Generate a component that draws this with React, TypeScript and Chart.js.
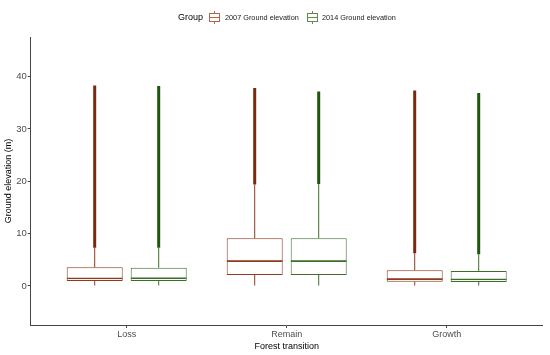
import React, { useEffect, useRef } from 'react';
import { Chart, registerables } from 'chart.js';

Chart.register(...registerables);

const CATEGORIES = ['Loss', 'Remain', 'Growth'];
const SERIES = ['2007 Ground elevation', '2014 Ground elevation'];
const Y_TICKS = [0, 10, 20, 30, 40];

// 2007 Ground elevation
const MIN_2007 = [0, 0, 0];
const Q1_2007 = [0.96, 2.1, 0.82];
const MEDIAN_2007 = [1.28, 4.59, 1.15];
const Q3_2007 = [3.58, 9.12, 3.0];
const WHISKER_2007 = [7.3, 19.4, 6.25];
const MAX_2007 = [38.3, 37.8, 37.35];

// 2014 Ground elevation
const MIN_2014 = [0, 0, 0];
const Q1_2014 = [0.96, 2.1, 0.76];
const MEDIAN_2014 = [1.32, 4.6, 1.1];
const Q3_2014 = [3.5, 9.1, 2.87];
const WHISKER_2014 = [7.3, 19.5, 6.06];
const MAX_2014 = [38.2, 37.15, 36.85];

const COLOR_2007 = '#8c3b1f';
const DARK_2007 = '#7a2810';
const COLOR_2014 = '#3d6e28';
const DARK_2014 = '#1d570c';

const FONT = "'Liberation Sans', Arial, sans-serif";

function pairs(lo: number[], hi: number[]) {
  return lo.map((v, i) => ({ x: i, y: [v, hi[i]] }));
}

function makeGroup(
  label: string,
  stack: string,
  color: string,
  dark: string,
  mn: number[],
  q1: number[],
  med: number[],
  q3: number[],
  wh: number[],
  mx: number[]
) {
  const common = {
    type: 'bar' as const,
    stack,
    label,
    categoryPercentage: 0.8,
    barPercentage: 0.875,
    borderSkipped: false,
  };
  return [
    {
      ...common,
      data: pairs(q1, q3),
      backgroundColor: '#ffffff',
      borderColor: color,
      borderWidth: 1,
      order: 2,
    },
    {
      ...common,
      data: pairs(med, q3),
      backgroundColor: 'rgba(0,0,0,0)',
      borderColor: color,
      borderWidth: { top: 0, left: 0, right: 0, bottom: 1.6 },
      order: 1,
    },
    {
      ...common,
      data: pairs(mn, q1),
      backgroundColor: color,
      borderWidth: 0,
      maxBarThickness: 1,
      order: 3,
    },
    {
      ...common,
      data: pairs(q3, wh),
      backgroundColor: color,
      borderWidth: 0,
      maxBarThickness: 1,
      order: 3,
    },
    {
      ...common,
      data: pairs(wh, mx),
      backgroundColor: dark,
      borderWidth: 0,
      maxBarThickness: 3,
      order: 3,
    },
  ];
}

const legendPlugin = {
  id: 'ggLegend',
  afterDraw(chart: any) {
    const ctx = chart.ctx as CanvasRenderingContext2D;
    ctx.save();
    ctx.textBaseline = 'middle';
    ctx.fillStyle = '#000000';
    ctx.font = `9px ${FONT}`;
    ctx.fillText('Group', 178, 17.5);
    const keys = [
      { x: 209, tx: 225, color: '#b0644a', text: SERIES[0] },
      { x: 307, tx: 322, color: '#5f8a4c', text: SERIES[1] },
    ];
    for (const k of keys) {
      ctx.strokeStyle = k.color;
      ctx.lineWidth = 1;
      ctx.fillStyle = '#ffffff';
      ctx.fillRect(k.x + 0.5, 13.5, 10, 8);
      ctx.strokeRect(k.x + 0.5, 13.5, 10, 8);
      ctx.beginPath();
      ctx.moveTo(k.x + 0.5, 17.5);
      ctx.lineTo(k.x + 10.5, 17.5);
      ctx.moveTo(k.x + 5.5, 11);
      ctx.lineTo(k.x + 5.5, 13.5);
      ctx.moveTo(k.x + 5.5, 21.5);
      ctx.lineTo(k.x + 5.5, 24);
      ctx.stroke();
      ctx.fillStyle = '#1a1a1a';
      ctx.font = `7.3px ${FONT}`;
      ctx.fillText(k.text, k.tx, 17.5);
    }
    ctx.restore();
  },
};

export default function App() {
  const ref = useRef<HTMLCanvasElement | null>(null);

  useEffect(() => {
    document.body.style.margin = '0';
    const canvas = ref.current;
    if (!canvas) return;
    const datasets: any[] = [
      ...makeGroup(SERIES[0], 's2007', COLOR_2007, DARK_2007, MIN_2007, Q1_2007, MEDIAN_2007, Q3_2007, WHISKER_2007, MAX_2007),
      ...makeGroup(SERIES[1], 's2014', COLOR_2014, DARK_2014, MIN_2014, Q1_2014, MEDIAN_2014, Q3_2014, WHISKER_2014, MAX_2014),
    ];
    const chart = new Chart(canvas, {
      type: 'bar',
      data: { datasets },
      options: {
        responsive: false,
        animation: false,
        devicePixelRatio: 1,
        layout: { padding: { top: 37, right: 7.3, left: 0, bottom: 0 } },
        plugins: {
          legend: { display: false },
          tooltip: { enabled: false },
        },
        scales: {
          x: {
            type: 'linear',
            min: -0.6,
            max: 2.6,
            offset: false,
            afterBuildTicks: (s: any) => {
              s.ticks = CATEGORIES.map((_, i) => ({ value: i }));
            },
            afterFit: (s: any) => {
              s.height = 30;
            },
            ticks: {
              autoSkip: false,
              maxRotation: 0,
              padding: 1,
              color: '#4d4d4d',
              font: { family: FONT, size: 9 },
              callback: (v: any) => CATEGORIES[v as number] ?? '',
            },
            grid: {
              display: true,
              offset: false,
              drawOnChartArea: false,
              drawTicks: true,
              tickLength: 3,
              color: '#444444',
            },
            border: { display: true, color: '#444444', width: 1 },
            title: {
              display: true,
              text: 'Forest transition',
              color: '#000000',
              font: { family: FONT, size: 9 },
              padding: { top: 0, bottom: 3 },
            },
          },
          y: {
            type: 'linear',
            min: -7.45,
            max: 47.55,
            stacked: false,
            afterBuildTicks: (s: any) => {
              s.ticks = Y_TICKS.map((v) => ({ value: v }));
            },
            afterFit: (s: any) => {
              s.width = 30.7;
            },
            ticks: {
              padding: 1,
              color: '#4d4d4d',
              font: { family: FONT, size: 9.5 },
            },
            grid: {
              display: true,
              drawOnChartArea: false,
              drawTicks: true,
              tickLength: 3,
              color: '#444444',
            },
            border: { display: true, color: '#444444', width: 1 },
            title: {
              display: true,
              text: 'Ground elevation (m)',
              color: '#000000',
              font: { family: FONT, size: 9 },
              padding: { top: 3, bottom: 0 },
            },
          },
        },
      } as any,
      plugins: [legendPlugin],
    });
    return () => chart.destroy();
  }, []);

  return (
    <div style={{ position: 'absolute', left: 0, top: 0, width: 550, height: 355 }}>
      <canvas ref={ref} width={550} height={355} />
    </div>
  );
}
